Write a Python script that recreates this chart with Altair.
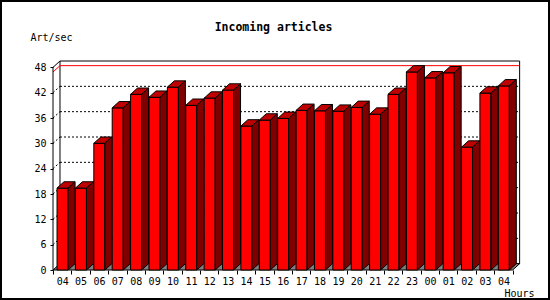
import json
import altair as alt
import pandas as pd

# ---- data ----
hours = ["04", "05", "06", "07", "08", "09", "10", "11", "12", "13", "14", "15",
         "16", "17", "18", "19", "20", "21", "22", "23", "00", "01", "02", "03", "04"]
rates = [19.4, 19.4, 30.0, 38.4, 41.6, 40.9, 43.3, 39.0, 40.7, 42.6, 34.1, 35.5,
         35.9, 37.8, 37.7, 37.6, 38.5, 36.9, 41.6, 46.9, 45.5, 46.7, 29.1, 41.9, 43.6]
y_ticks = [0, 6, 12, 18, 24, 30, 36, 42, 48]
grid_levels = [6, 12, 18, 24, 30, 36, 42]
title_text = "Incoming articles"
y_title = "Art/sec"
x_title = "Hours"

# ---- geometry (style) ----
W, H = 467, 209
N = len(hours)
X_MAX = N + 0.4
Y_MAX = 49.5
DX = 0.38      # depth in x units
DY = 1.5       # depth in y units
FL, FR = 0.22, 0.82
FONT = "DejaVu Sans Mono"

xs = alt.Scale(domain=[0, X_MAX], nice=False, zero=False)
ys = alt.Scale(domain=[0, Y_MAX], nice=False, zero=False)

front = pd.DataFrame({
    "bar": list(range(N)),
    "x": [i + FL for i in range(N)],
    "x2": [i + FR for i in range(N)],
    "y": rates,
    "y2": [0.0] * N,
})

top_rows, side_rows = [], []
for i, v in enumerate(rates):
    top_rows.append({"bar": i, "y": v, "x": i + FL, "x2": i + FR})
    top_rows.append({"bar": i, "y": v + DY, "x": i + FL + DX, "x2": i + FR + DX})
    side_rows.append({"bar": i, "x": i + FR, "y": v, "y2": 0.0})
    side_rows.append({"bar": i, "x": i + FR + DX, "y": v + DY, "y2": DY})
top = pd.DataFrame(top_rows)
side = pd.DataFrame(side_rows)

floor = pd.DataFrame({"bar": [0, 0], "y": [0.0, DY], "x": [0.0, DX], "x2": [float(N), N + DX]})
wall = pd.DataFrame({"x": [DX], "x2": [N + DX], "y": [DY], "y2": [y_ticks[-1] + DY]})
grid = pd.DataFrame({"x": [DX] * len(grid_levels), "x2": [N + DX] * len(grid_levels),
                     "y": [g + DY for g in grid_levels]})
diag = pd.DataFrame({"x": [0.0] * len(grid_levels), "x2": [DX] * len(grid_levels),
                     "y": grid_levels, "y2": [g + DY for g in grid_levels]})
vmax = max(rates)
maxline = pd.DataFrame({"x": [0.0, DX], "x2": [DX, N + DX],
                        "y": [vmax, vmax + DY], "y2": [vmax + DY, vmax + DY]})
leftaxis = pd.DataFrame({"x": [0.0, 0.0], "x2": [0.0, DX],
                         "y": [0.0, y_ticks[-1]], "y2": [y_ticks[-1], y_ticks[-1] + DY]})

label_expr = ("datum.value % 1 == 0 ? '' : " + json.dumps(hours) + "[floor(datum.value)]")
x_values = [k * 0.5 for k in range(2 * N + 1)]

x_axis = alt.Axis(
    values=x_values, labelExpr=label_expr, labelOverlap=False, labelFlush=False,
    domain=False, grid=False, tickSize=4, tickColor="black",
    tickOpacity={"condition": {"test": "datum.value % 1 != 0", "value": 0}, "value": 1},
    labelFont=FONT, labelFontSize=10, labelColor="black", labelPadding=2,
    title=x_title, titleFont=FONT, titleFontSize=10, titleFontWeight="normal",
    titleColor="black", titleAngle=0, titleAlign="left", titleBaseline="alphabetic",
    titleX=451, titleY=26)
y_axis = alt.Axis(
    values=y_ticks, domain=False, grid=False, tickSize=3, tickColor="black",
    labelFont=FONT, labelFontSize=10, labelColor="black", labelPadding=4,
    title=y_title, titleFont=FONT, titleFontSize=10, titleFontWeight="normal",
    titleColor="black", titleAngle=0, titleAlign="left", titleBaseline="alphabetic",
    titleX=-23, titleY=-21)


def X(f="x"):
    return alt.X(f + ":Q", scale=xs, axis=x_axis, stack=None)


def Y(f="y"):
    return alt.Y(f + ":Q", scale=ys, axis=y_axis, stack=None)


border = alt.Chart(pd.DataFrame({"a": [0]})).mark_rect(
    fill=None, stroke="black", strokeWidth=2
).encode(x=alt.value(-52), x2=alt.value(496), y=alt.value(-60), y2=alt.value(238))

wall_l = alt.Chart(wall).mark_rect(fill="white", stroke="black", strokeWidth=1).encode(
    x=X(), x2="x2", y=Y(), y2="y2")

grid_l = alt.Chart(grid).mark_rule(color="black", strokeWidth=1, strokeDash=[2, 2]).encode(
    x=X(), x2="x2", y=Y())

diag_l = alt.Chart(diag).mark_rule(color="black", strokeWidth=1, strokeDash=[2, 2]).encode(
    x=X(), x2="x2", y=Y(), y2="y2")

max_l = alt.Chart(maxline).mark_rule(color="#FF0000", strokeWidth=1).encode(
    x=X(), x2="x2", y=Y(), y2="y2")

left_l = alt.Chart(leftaxis).mark_rule(color="black", strokeWidth=1).encode(
    x=X(), x2="x2", y=Y(), y2="y2")

floor_l = alt.Chart(floor).mark_area(orient="horizontal", color="#808080", stroke="black",
                                     strokeWidth=1).encode(
    y=Y(), x=X(), x2="x2", detail="bar:N")

front_l = alt.Chart(front).mark_rect(fill="#FF0000", stroke="black", strokeWidth=1).encode(
    x=X(), x2="x2", y=Y(), y2="y2")

top_l = alt.Chart(top).mark_area(orient="horizontal", color="#C00000", stroke="black",
                                 strokeWidth=1).encode(
    y=Y(), x=X(), x2="x2", detail="bar:N")

side_l = alt.Chart(side).mark_area(orient="vertical", color="#800000", stroke="black",
                                   strokeWidth=1).encode(
    x=X(), y=Y(), y2="y2", detail="bar:N")

chart = alt.layer(
    border, wall_l, grid_l, diag_l, max_l, left_l, floor_l, front_l, top_l, side_l
).properties(
    width=W, height=H,
    title=alt.TitleParams(title_text, font=FONT, fontSize=11.5, fontWeight="bold",
                          color="black", anchor="middle", dx=-13, offset=-42,
                          baseline="alphabetic"),
    autosize=alt.AutoSizeParams(type="none"),
    padding={"left": 53, "top": 61, "right": 30, "bottom": 30},
    background="white",
).configure_view(stroke=None)

chart.save("out.html", embed_options={"renderer": "svg", "actions": False})
